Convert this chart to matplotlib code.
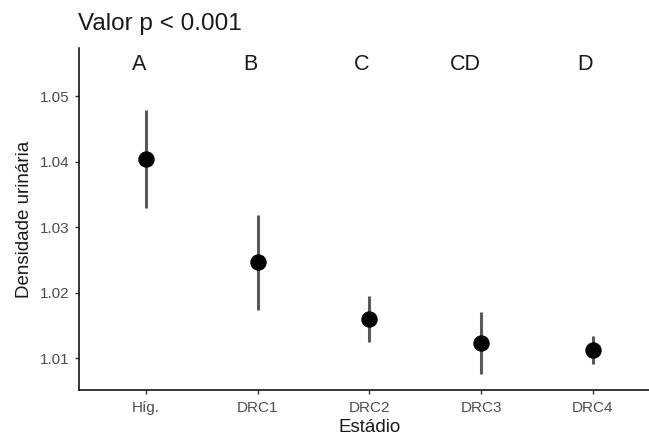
import matplotlib.pyplot as plt

plt.rcParams['font.family'] = ['Liberation Sans', 'DejaVu Sans']

# urine density by stage: mean and interval limits
estadios = ["Híg.", "DRC1", "DRC2", "DRC3", "DRC4"]
media = [1.0404, 1.0247, 1.0160, 1.0123, 1.0112]
inferior = [1.0329, 1.0174, 1.0125, 1.0076, 1.0091]
superior = [1.0480, 1.0319, 1.0195, 1.0171, 1.0134]
letras = ["A", "B", "C", "CD", "D"]
y_letras = 1.0549

fig = plt.figure(figsize=(6.49, 4.38), dpi=100)
ax = fig.add_axes([0.1217, 0.1096, 0.895, 0.7808])

x = list(range(1, len(estadios) + 1))
err_low = [m - lo for m, lo in zip(media, inferior)]
err_high = [hi - m for m, hi in zip(media, superior)]

ax.errorbar(x, media, yerr=[err_low, err_high], fmt='none',
            ecolor='#595959', elinewidth=2.2, capsize=0, zorder=2)
ax.plot(x, media, 'o', color='black', markersize=10.8, zorder=3)

for xi, lab in zip(x, letras):
    ax.text(xi, y_letras, lab, ha='right', va='center', fontsize=15.5, color='#1a1a1a')

ax.set_xlim(0.4, 5.6)
ax.set_ylim(1.00516, 1.0574)
ax.set_xticks(x)
ax.set_xticklabels(estadios)
ax.set_yticks([1.01, 1.02, 1.03, 1.04, 1.05])
ax.set_yticklabels(["1.01", "1.02", "1.03", "1.04", "1.05"])

for side in ['top', 'right']:
    ax.spines[side].set_visible(False)
for side in ['left', 'bottom']:
    ax.spines[side].set_color('black')
    ax.spines[side].set_linewidth(1.1)

ax.tick_params(axis='both', colors='#333333', labelcolor='#4D4D4D',
               labelsize=11, length=3, width=1.0)
ax.tick_params(axis='x', pad=5)

ax.set_xlabel("Estádio", fontsize=13.5, color='#1a1a1a', labelpad=2.5)
ax.set_ylabel("Densidade urinária", fontsize=13.5, color='#1a1a1a', labelpad=5)

fig.text(78 / 649, 1 - 24 / 438, "Valor p < 0.001", fontsize=17.5,
         ha='left', va='center', color='#1a1a1a')

fig.savefig("out.png", dpi=100)
